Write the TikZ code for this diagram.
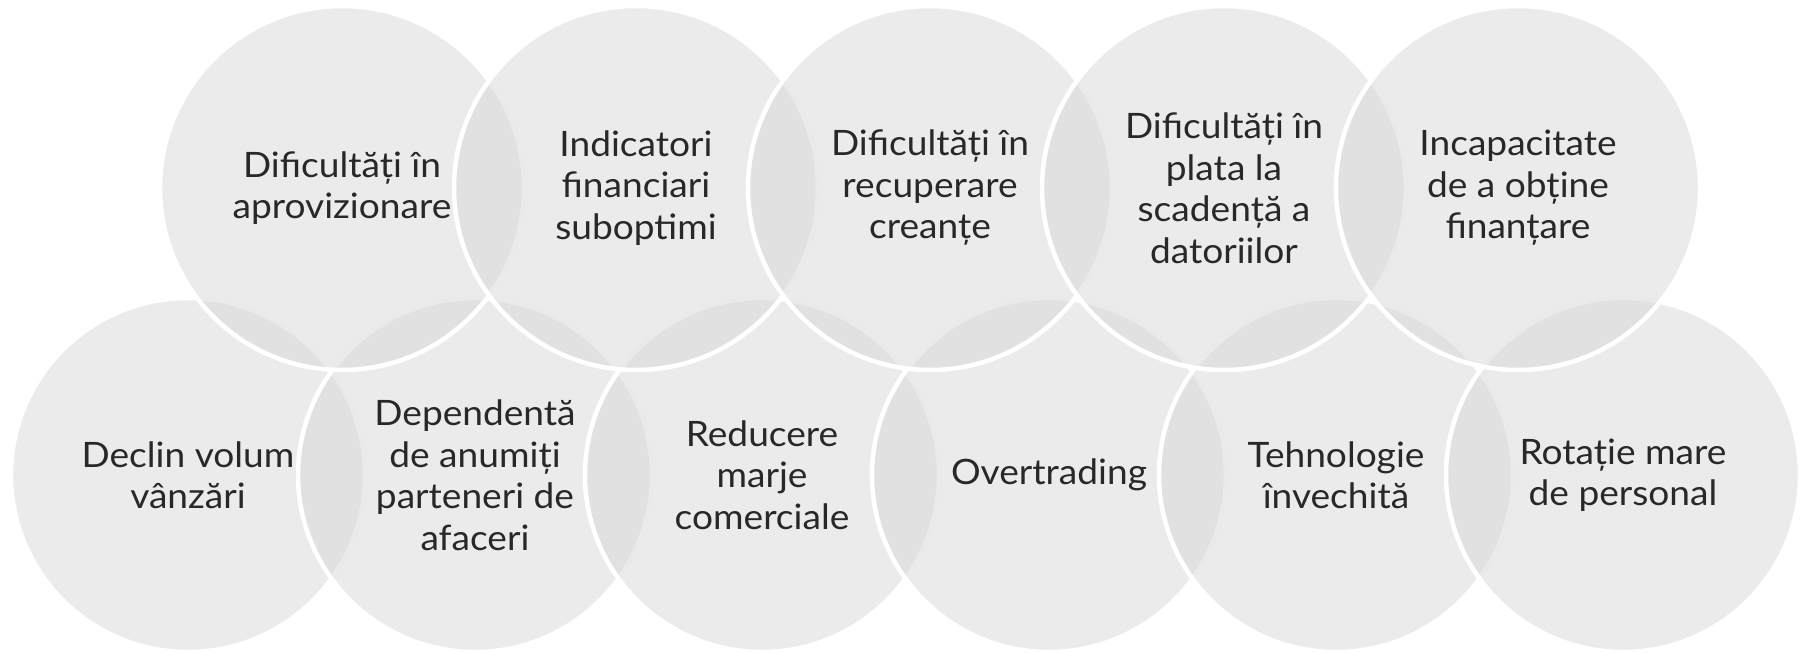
\documentclass[tikz,border=0pt]{standalone}
\usepackage{fontspec}
\setmainfont{Lato}[FakeStretch=1.06]
\begin{document}
\begin{tikzpicture}[x=1pt,y=-1pt,
  blob/.style={circle,draw=white,line width=4.5pt,fill={rgb,255:red,215;green,215;blue,215},fill opacity=0.5,draw opacity=1,inner sep=0pt},
  topblob/.style={blob,minimum size=364pt},
  botblob/.style={blob,minimum size=354pt},
  lbl/.style={align=center,text={rgb,255:red,40;green,40;blue,40},font=\fontsize{35}{41.5}\selectfont}]
\useasboundingbox (0,0) rectangle (1808,653);
% bottom row
\node[botblob] (b1) at (188,475) {};
\node[botblob] (b2) at (475,475) {};
\node[botblob] (b3) at (762,475) {};
\node[botblob] (b4) at (1049,475) {};
\node[botblob] (b5) at (1336,475) {};
\node[botblob] (b6) at (1623,475) {};
% top row
\node[topblob] (t1) at (342,188) {};
\node[topblob] (t2) at (636,188) {};
\node[topblob] (t3) at (930,188) {};
\node[topblob] (t4) at (1224,188) {};
\node[topblob] (t5) at (1518,188) {};
% labels
\node[lbl] (l1) at (t1) {Dificultăți în\\aprovizionare};
\node[lbl] (l2) at (t2) {Indicatori\\financiari\\suboptimi};
\node[lbl] (l3) at (t3) {Dificultăți în\\recuperare\\creanțe};
\node[lbl] (l4) at (t4) {Dificultăți în\\plata la\\scadență a\\datoriilor};
\node[lbl] (l5) at (t5) {Incapacitate\\de a obține\\finanțare};
\node[lbl] (m1) at (b1) {Declin volum\\vânzări};
\node[lbl] (m2) at (b2) {Dependentă\\de anumiți\\parteneri de\\afaceri};
\node[lbl] (m3) at (b3) {Reducere\\marje\\comerciale};
\node[lbl] (m4) at (b4) {Overtrading};
\node[lbl] (m5) at (b5) {Tehnologie\\învechită};
\node[lbl] (m6) at (b6) {Rotație mare\\de personal};
\end{tikzpicture}
\end{document}
